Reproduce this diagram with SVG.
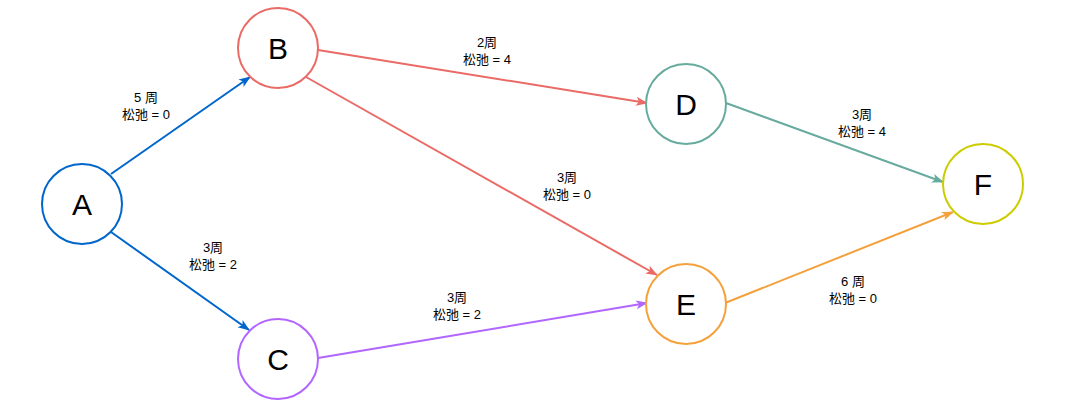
<svg xmlns="http://www.w3.org/2000/svg" width="1067" height="419" viewBox="0 0 1067 419">
<style>
.n{fill:#fff;stroke-width:2}
.t{font-family:"Liberation Sans","Noto Sans CJK SC",sans-serif;font-size:30px;fill:#000;text-anchor:middle}
.l{font-family:"Liberation Sans","Noto Sans CJK SC",sans-serif;font-size:13px;fill:#000;text-anchor:middle}
.e{fill:none;stroke-width:2}
</style>
<defs>
<marker id="ab" markerWidth="12" markerHeight="12" refX="11" refY="6" orient="auto" markerUnits="userSpaceOnUse"><path d="M0,1.5 L12,6 L0,10.5 L3,6 Z" fill="#0066CC"/></marker>
<marker id="ar" markerWidth="12" markerHeight="12" refX="11" refY="6" orient="auto" markerUnits="userSpaceOnUse"><path d="M0,1.5 L12,6 L0,10.5 L3,6 Z" fill="#EA6B66"/></marker>
<marker id="ap" markerWidth="12" markerHeight="12" refX="11" refY="6" orient="auto" markerUnits="userSpaceOnUse"><path d="M0,1.5 L12,6 L0,10.5 L3,6 Z" fill="#B266FF"/></marker>
<marker id="ag" markerWidth="12" markerHeight="12" refX="11" refY="6" orient="auto" markerUnits="userSpaceOnUse"><path d="M0,1.5 L12,6 L0,10.5 L3,6 Z" fill="#67AB9F"/></marker>
<marker id="ao" markerWidth="12" markerHeight="12" refX="11" refY="6" orient="auto" markerUnits="userSpaceOnUse"><path d="M0,1.5 L12,6 L0,10.5 L3,6 Z" fill="#F5A13B"/></marker>
</defs>
<rect width="1067" height="419" fill="#fff"/>
<g id="connectors">
<line class="e" x1="111" y1="174" x2="250" y2="77" stroke="#0066CC" marker-end="url(#ab)"/>
<line class="e" x1="111" y1="232" x2="249" y2="330" stroke="#0066CC" marker-end="url(#ab)"/>
<line class="e" x1="318" y1="50" x2="647" y2="103" stroke="#EA6B66" marker-end="url(#ar)"/>
<line class="e" x1="306" y1="77" x2="657" y2="275" stroke="#EA6B66" marker-end="url(#ar)"/>
<line class="e" x1="318" y1="358" x2="647" y2="303" stroke="#B266FF" marker-end="url(#ap)"/>
<line class="e" x1="726" y1="103" x2="943" y2="182" stroke="#67AB9F" marker-end="url(#ag)"/>
<line class="e" x1="725" y1="303" x2="953" y2="212" stroke="#F5A13B" marker-end="url(#ao)"/>
<text class="l" x="146" y="102">5 周</text><text class="l" x="146" y="119">松弛 = 0</text>
<text class="l" x="213" y="252">3周</text><text class="l" x="213" y="269">松弛 = 2</text>
<text class="l" x="487" y="47">2周</text><text class="l" x="487" y="64">松弛 = 4</text>
<text class="l" x="567" y="182">3周</text><text class="l" x="567" y="199">松弛 = 0</text>
<text class="l" x="457" y="302">3周</text><text class="l" x="457" y="319">松弛 = 2</text>
<text class="l" x="862" y="119">3周</text><text class="l" x="862" y="136">松弛 = 4</text>
<text class="l" x="853" y="286">6 周</text><text class="l" x="853" y="303">松弛 = 0</text>
</g>
<g id="A"><circle class="n" cx="82" cy="204" r="40" stroke="#0066CC"/><text class="t" x="82" y="215">A</text></g>
<g id="B"><circle class="n" cx="278" cy="48" r="40" stroke="#EA6B66"/><text class="t" x="278" y="59">B</text></g>
<g id="C"><circle class="n" cx="278" cy="359" r="40" stroke="#B266FF"/><text class="t" x="278" y="370">C</text></g>
<g id="D"><circle class="n" cx="686" cy="104" r="40" stroke="#67AB9F"/><text class="t" x="686" y="115">D</text></g>
<g id="E"><circle class="n" cx="686" cy="304" r="40" stroke="#F5A13B"/><text class="t" x="686" y="315">E</text></g>
<g id="F"><circle class="n" cx="983" cy="184" r="40" stroke="#CCCC00"/><text class="t" x="983" y="195">F</text></g>
</svg>
